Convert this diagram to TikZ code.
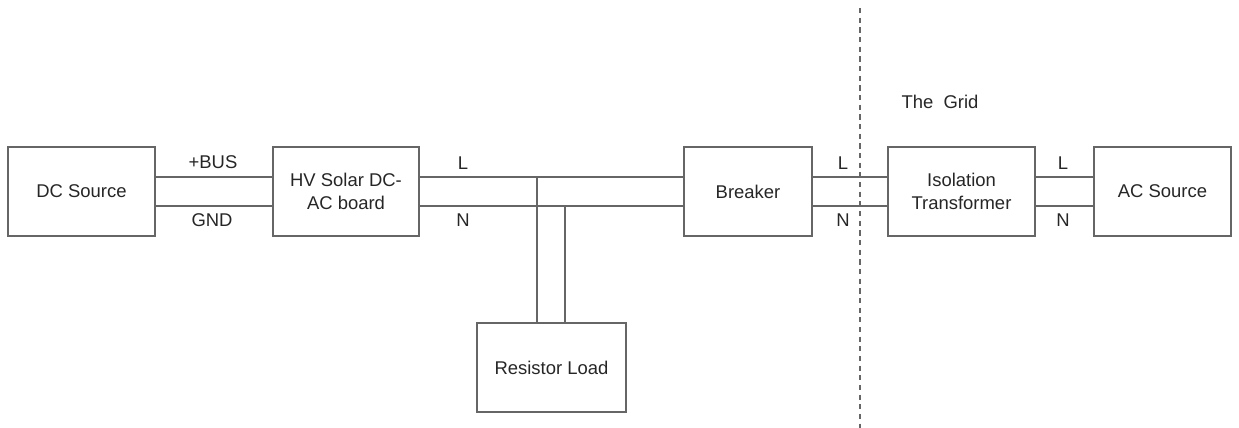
\documentclass[tikz,border=0pt]{standalone}
\usepackage{fontspec}
\setmainfont{Liberation Sans}
\usetikzlibrary{calc, positioning}

\begin{document}
\begin{tikzpicture}[x=0.02cm, y=-0.02cm,
  every node/.style={font=\fontsize{10.5}{13}\selectfont, text=black!85},
  blockbox/.style={draw=black!60, line width=0.8pt, minimum height=1.78cm, align=center, inner sep=2pt},
  wire/.style={draw=black!60, line width=0.8pt}]
\def\off{0.29cm}
\useasboundingbox (0,0) rectangle (1239,428);

\node[blockbox, minimum width=2.94cm] (dc) at (81.5,191.5) {DC Source};
\node[blockbox, minimum width=2.92cm] (hv) at (346,191.5) {HV Solar DC-\\AC board};
\node[blockbox, minimum width=2.56cm] (brk) at (748,191.5) {Breaker};
\node[blockbox, minimum width=2.94cm] (iso) at (961.5,191.5) {Isolation\\Transformer};
\node[blockbox, minimum width=2.74cm] (ac) at (1162.5,191.5) {AC Source};
\node[blockbox, minimum width=2.98cm] (load) at (551.5,367.5) {Resistor Load};

\draw[wire] ([yshift=\off]dc.east) -- ([yshift=\off]hv.west);
\draw[wire] ([yshift=-\off]dc.east) -- ([yshift=-\off]hv.west);
\draw[wire] ([yshift=\off]hv.east) -- ([yshift=\off]brk.west);
\draw[wire] ([yshift=-\off]hv.east) -- ([yshift=-\off]brk.west);
\draw[wire] ([yshift=\off]brk.east) -- ([yshift=\off]iso.west);
\draw[wire] ([yshift=-\off]brk.east) -- ([yshift=-\off]iso.west);
\draw[wire] ([yshift=\off]iso.east) -- ([yshift=\off]ac.west);
\draw[wire] ([yshift=-\off]iso.east) -- ([yshift=-\off]ac.west);

% taps down to the load
\coordinate (tapL) at (537,177);
\coordinate (tapN) at (565,207);
\draw[wire] (tapL) -- (tapL |- load.north);
\draw[wire] (tapN) -- (tapN |- load.north);

% grid boundary
\coordinate (gridTop) at (860,8);
\coordinate (gridBot) at (860,428);
\draw[draw=black!60, line width=0.6pt, dash pattern=on 3pt off 2.5pt] (gridTop) -- (gridBot);

\node (bus) at (213,162) {+BUS};
\node (gnd) at (212,220) {GND};
\node (lA) at (463,163) {L};
\node (nA) at (463,220) {N};
\node (lB) at (843,163) {L};
\node (nB) at (843,220) {N};
\node (lC) at (1063,163) {L};
\node (nC) at (1063,220) {N};
\node (grid) at (940,102) {The\ \ Grid};
\end{tikzpicture}
\end{document}
